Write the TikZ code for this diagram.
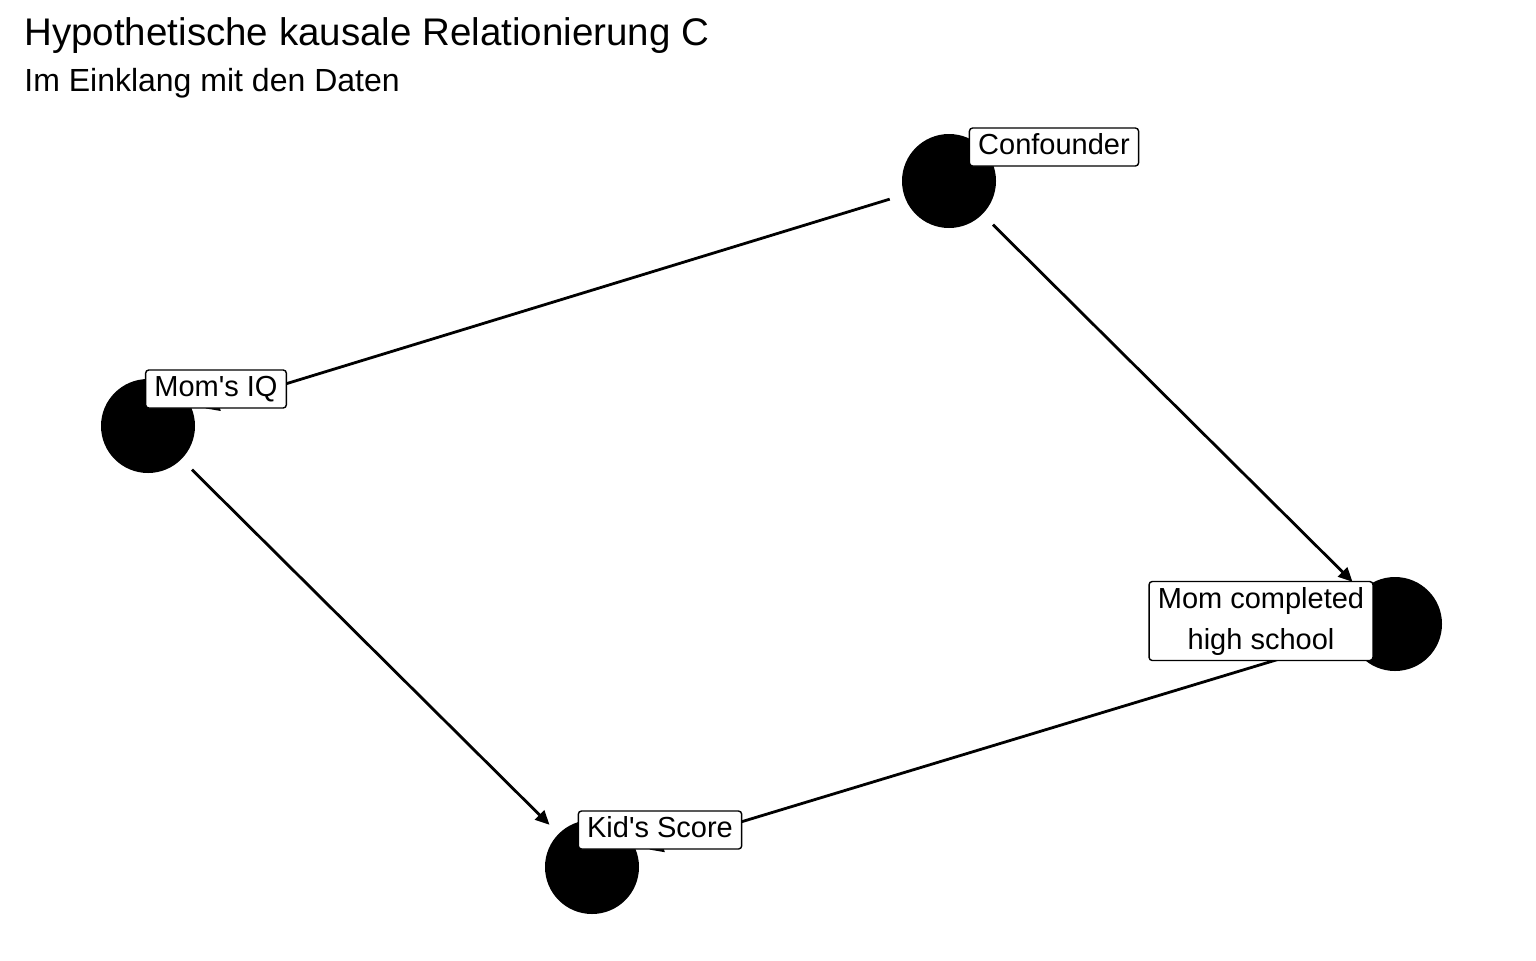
\documentclass[tikz,border=0pt]{standalone}
\usepackage{fontspec}
\setmainfont{Liberation Sans}[Ligatures=TeXOff]
\usetikzlibrary{arrows.meta}
\newcommand{\lblstrut}{\rule[-3.2pt]{0pt}{14pt}}
\begin{document}
\begin{tikzpicture}[x=0.5pt,y=-0.5pt,
  dagnode/.style={circle,fill=black,draw=none,minimum size=47pt,inner sep=0pt},
  daglabel/.style={draw=black,line width=0.7pt,fill=white,rounded corners=1.6pt,
    font=\fontsize{14.5}{20.5}\selectfont,align=center,
    inner xsep=4.4pt,inner ysep=2.5pt},
  dagedge/.style={line width=1.4pt,-{Triangle[length=7pt,width=6.5pt]},
    shorten <=31pt,shorten >=30pt},
  titletext/.style={anchor=base west,inner sep=0pt,font=\fontsize{19.25}{23}\selectfont},
  subtitletext/.style={anchor=base west,inner sep=0pt,font=\fontsize{16}{19}\selectfont}]
\useasboundingbox[fill=white] (0,0) rectangle (1536,960);
\node[titletext] (title) at (24,45) {Hypothetische kausale Relationierung C};
\node[subtitletext] (subtitle) at (24,91) {Im Einklang mit den Daten};
\node[dagnode] (c) at (949,181) {};
\node[dagnode] (iq) at (148,426) {};
\node[dagnode] (hs) at (1395,624) {};
\node[dagnode] (k) at (592,867) {};
\draw[dagedge] (c.center) -- (iq.center);
\draw[dagedge] (c.center) -- (hs.center);
\draw[dagedge] (iq.center) -- (k.center);
\draw[dagedge] (hs.center) -- (k.center);
\node[daglabel] (lc) at (1054,147) {\lblstrut Confounder};
\node[daglabel] (liq) at (216,389) {\lblstrut Mom's IQ};
\node[daglabel] (lhs) at (1261,621) {\lblstrut Mom completed\\\lblstrut high school};
\node[daglabel] (lk) at (660,830) {\lblstrut Kid's Score};
\end{tikzpicture}
\end{document}
